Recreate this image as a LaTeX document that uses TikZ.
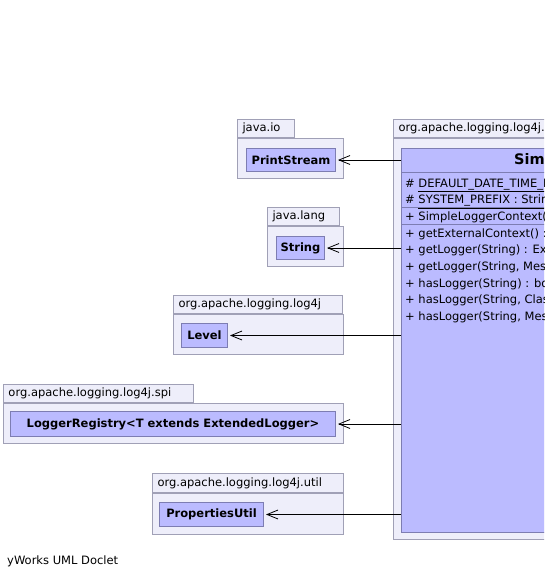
\documentclass[tikz,border=0pt]{standalone}
\usepackage{fontspec}
\setmainfont{DejaVu Sans}
\usetikzlibrary{positioning, arrows.meta}
\definecolor{pkgfill}{RGB}{238,238,250}
\definecolor{pkgline}{RGB}{160,160,182}
\definecolor{clsfill}{RGB}{187,187,255}
\definecolor{clsline}{RGB}{125,125,178}
\tikzstyle{pkgbody}=[draw=pkgline, fill=pkgfill, line width=1pt, anchor=north west,
                     inner sep=0pt, minimum height=40pt]
\tikzstyle{pkgtab}=[draw=pkgline, fill=pkgfill, line width=1pt, inner xsep=5pt, inner ysep=0pt,
                    minimum height=18pt, align=left, font=\fontsize{11.5}{14}\selectfont]
\tikzstyle{cls}=[draw=clsline, fill=clsfill, line width=1pt, minimum height=23pt, inner sep=0pt,
                 font=\bfseries\fontsize{11.5}{14}\selectfont]
\tikzstyle{member}=[anchor=base west, inner sep=0pt, font=\fontsize{11.5}{14}\selectfont]
\tikzstyle{dep}=[-{Straight Barb[length=11pt, width=9pt]}, line width=0.8pt, shorten >=2pt]

\begin{document}
\begin{tikzpicture}[x=1pt, y=-1pt]
    \clip (0,0) rectangle (544,577);
    \fill[white] (0,0) rectangle (544,577);

    \node[pkgbody, minimum width=106pt] (iobody) at (237,138) {};
    \node[pkgtab, text width=47pt, above right=0pt and 0pt of iobody.north west] (iotab) {java.io};
    \node[cls, minimum width=89pt, below right=10pt and 9pt of iobody.north west] (ps) {PrintStream};

    \node[pkgbody, minimum width=76pt] (langbody) at (267,226) {};
    \node[pkgtab, text width=62pt, above right=0pt and 0pt of langbody.north west] (langtab) {java.lang};
    \node[cls, minimum width=48pt, below right=10pt and 9pt of langbody.north west] (str) {String};

    \node[pkgbody, minimum width=170pt] (logbody) at (173,314) {};
    \node[pkgtab, text width=159pt, above right=0pt and 0pt of logbody.north west] (logtab) {org.apache.logging.log4j};
    \node[cls, minimum width=46pt, minimum height=24pt, below right=9pt and 8pt of logbody.north west] (lvl) {Level};

    \node[pkgbody, minimum width=340pt] (spibody) at (3,403) {};
    \node[pkgtab, text width=180pt, above right=0pt and 0pt of spibody.north west] (spitab) {org.apache.logging.log4j.spi};
    \node[cls, minimum width=325pt, minimum height=25pt, below right=8pt and 7pt of spibody.north west] (reg) {LoggerRegistry<T extends ExtendedLogger>};

    \node[pkgbody, minimum width=191pt, minimum height=41pt] (utilbody) at (152,493) {};
    \node[pkgtab, text width=181pt, minimum height=19pt, above right=0pt and 0pt of utilbody.north west] (utiltab) {org.apache.logging.log4j.util};
    \node[cls, minimum width=104pt, minimum height=24pt, below right=9pt and 7pt of utilbody.north west] (putil) {PropertiesUtil};

    \node[pkgbody, minimum width=420pt, minimum height=401pt] (simbody) at (393,138) {};
    \node[pkgtab, text width=220pt, above right=0pt and 0pt of simbody.north west] (simtab) {org.apache.logging.log4j.simple};
    \node[cls, minimum width=402pt, minimum height=384pt, below right=10pt and 8pt of simbody.north west] (slc) {};
    \node[font=\bfseries\fontsize{14.5}{17}\selectfont, inner sep=0pt, minimum height=24pt,
          below=0pt of slc.north] (slcname) {SimpleLoggerContext};
    \draw[clsline, line width=1pt] (slc.west |- slcname.south) -- (slc.east |- slcname.south);
    \foreach \y in {207.5,224}
        \draw[clsline, line width=1pt] (slc.west |- 0,\y) -- (slc.east |- 0,\y);
    \foreach \txt [count=\i from 0] in {
        {\#~\underline{DEFAULT\_DATE\_TIME\_FORMAT : String}},
        {\#~\underline{SYSTEM\_PREFIX : String}},
        {+~SimpleLoggerContext()},
        {+~getExternalContext() : Object},
        {+~getLogger(String) : ExtendedLogger},
        {+~getLogger(String, MessageFactory) : ExtendedLogger},
        {+~hasLogger(String) : boolean},
        {+~hasLogger(String, Class) : boolean},
        {+~hasLogger(String, MessageFactory) : boolean}}
        \node[member] (m\i) at (405,{187+16.7*\i}) {\txt};

    \draw[dep] (slc.west |- ps) -- (ps);
    \draw[dep] (slc.west |- str) -- (str);
    \draw[dep] (slc.west |- lvl) -- (lvl);
    \draw[dep] (slc.west |- reg) -- (reg);
    \draw[dep] (slc.west |- putil) -- (putil);

    \node[anchor=west, inner sep=0pt, font=\fontsize{11.5}{14}\selectfont] (doclet) at (7,561) {yWorks UML Doclet};
\end{tikzpicture}
\end{document}
